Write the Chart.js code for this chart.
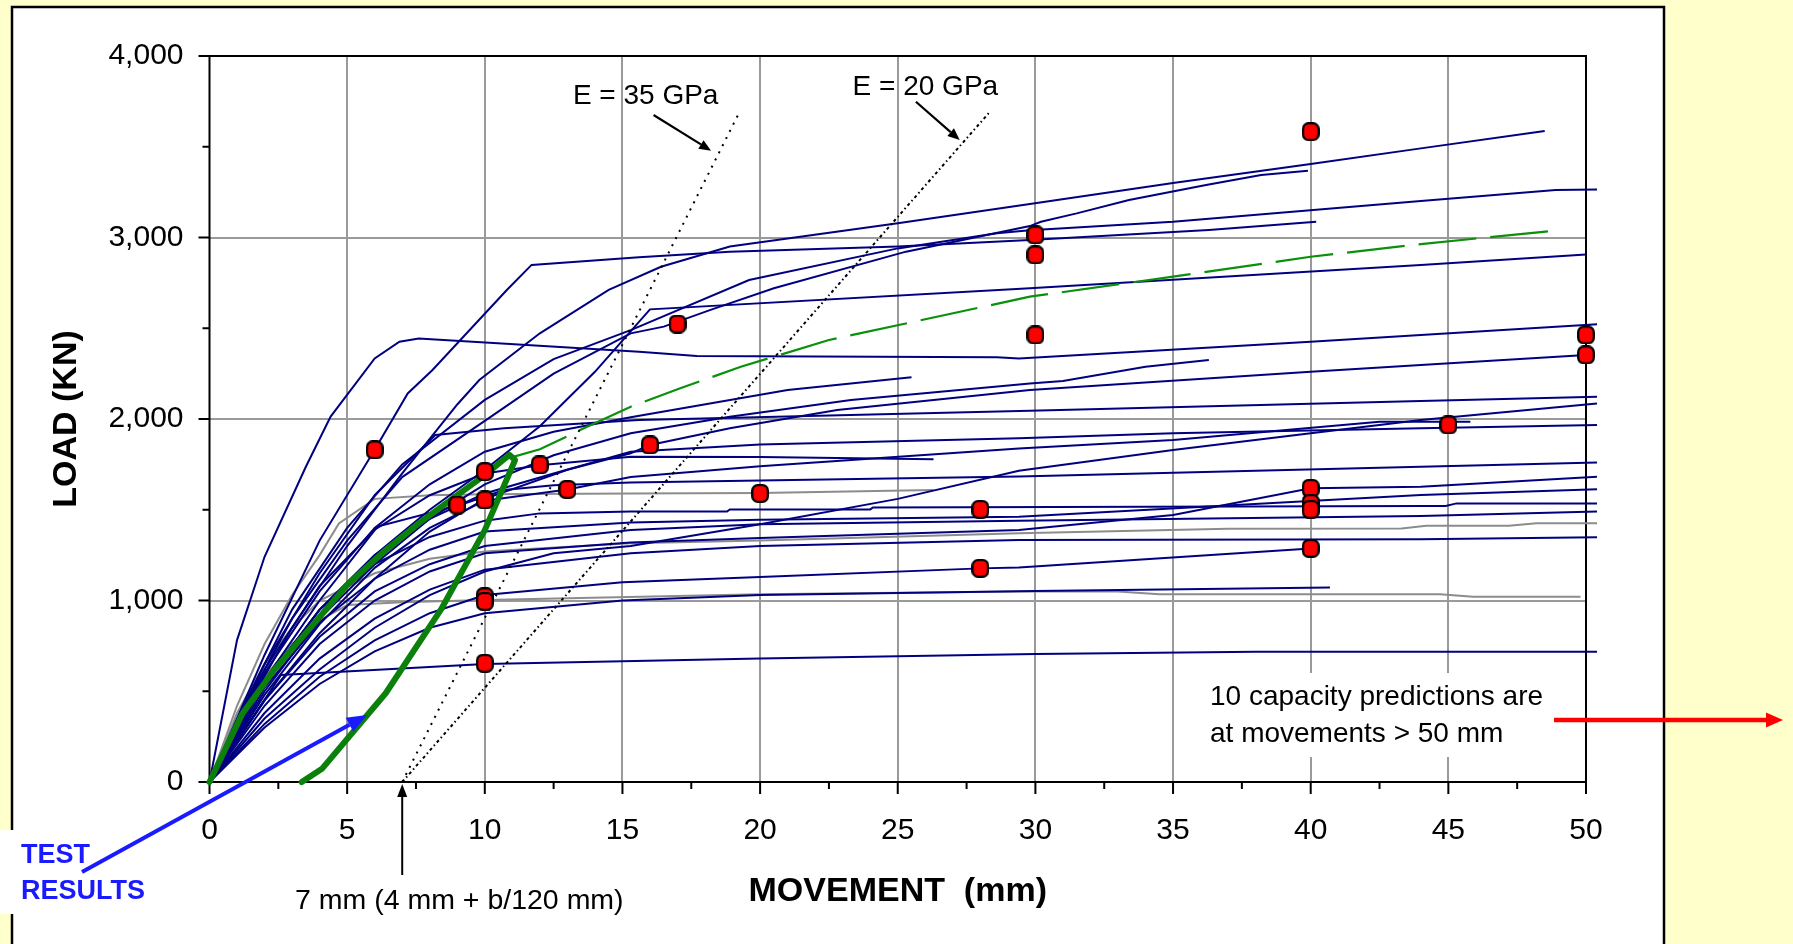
<!DOCTYPE html>
<html>
<head>
<meta charset="utf-8">
<title>Load - movement predictions</title>
<script src="https://cdn.jsdelivr.net/npm/chart.js@4/dist/chart.umd.min.js"></script>
<style>
  html, body { margin: 0; padding: 0; background: #FFFFCC; }
  canvas { display: block; }
</style>
</head>
<body>
<canvas id="chart" width="1793" height="944"></canvas>
<script>
// ---- Predicted load-movement curves, [movement mm, load kN] ----
const pred01 = [[0,0],[1.5,450],[3,850],[5,1300],[7,1700],[9,2080],[9.8,2215],[12,2472],[14.5,2711],[16.4,2839],[18.9,2950],[25,3078],[29.8,3185],[35,3300],[40,3405],[44,3491],[48.5,3587]];
const pred02 = [[0,0],[1.5,500],[3,950],[5,1400],[7,1750],[10,2105],[12.5,2330],[15.3,2490],[19.6,2766],[25,2940],[28.6,3023],[29.8,3040],[35,3087],[44,3201],[48.9,3262],[50.4,3265]];
const pred03 = [[0,0],[1.5,480],[3,900],[5,1330],[7,1680],[10,1990],[12.5,2250],[15.3,2472],[16.5,2509],[18.2,2601],[20.5,2720],[25.3,2922],[29.8,3063],[30.2,3087],[31.5,3133],[33.4,3207],[36.2,3289],[38.2,3344],[39.9,3368]];
const pred04 = [[0,0],[2,700],[4,1330],[6,1830],[7.2,2141],[8.1,2270],[10.8,2711],[11.7,2849],[15.6,2891],[18.9,2922],[25,2950],[29.8,2986],[36.3,3041],[40.2,3087]];
const pred05 = [[0,0],[1,782],[2,1241],[3.5,1737],[4.4,2013],[6,2334],[6.9,2426],[7.6,2444],[15.6,2371],[17.7,2347],[28.6,2340],[29.4,2334],[40,2426],[44,2463],[50.4,2522]];
const pred06 = [[0,0],[2,550],[4,950],[6,1250],[8,1500],[10,1720],[12,1960],[14,2260],[16,2604],[29.8,2720],[44,2849],[50,2907]];
const pred07 = [[0,0],[2,500],[4,900],[6,1200],[8,1450],[10,1640],[12.5,1800],[15.3,1921],[18.9,2013],[23.3,2105],[29.8,2196],[31,2209],[34,2288],[36.3,2325]];
const pred08 = [[0,0],[2,600],[4,1050],[6,1400],[8,1640],[10,1820],[12.5,1930],[15.3,2010],[21,2160],[25.5,2230]];
const pred09 = [[0,0],[2,450],[4,820],[6,1120],[8,1380],[10,1560],[13,1720],[15.3,1811],[16,1857],[18.9,1949],[22.8,2050],[29.8,2160],[40,2261],[44,2298],[50,2353]];
const pred10 = [[0,0],[2,650],[4,1150],[6,1580],[8.2,1912],[10.7,1949],[15.6,1994],[29.8,2046],[44,2099],[50.4,2123]];
const pred11 = [[0,0],[2,550],[4,950],[6,1250],[8,1450],[10,1590],[12.5,1700],[15.3,1820],[20,1860],[29.4,1894],[35,1921],[44,1949],[50.4,1967]];
const pred12 = [[0,0],[2,480],[4,870],[6,1180],[8,1400],[10,1550],[13,1612],[15.3,1680],[20,1740],[29.4,1838],[35,1884],[42.5,1985],[45.8,1985]];
const pred13 = [[0,0],[2,350],[4,620],[6,850],[8,1030],[10,1160],[12.5,1260],[15.3,1300],[20,1420],[25,1560],[29.4,1715],[35,1829],[40,1921],[44,1994],[50.4,2086]];
const pred14 = [[0,0],[2,560],[4,1000],[6.1,1407],[9.1,1526],[10.7,1609],[12.5,1635],[15.3,1650],[29.4,1683],[44,1737],[50.4,1761]];
const pred15 = [[0,0],[2,620],[4,1080],[6,1390],[8,1580],[10,1700],[12,1745],[15.3,1792],[20,1790],[26.3,1778]];
const pred16 = [[0,0],[2,420],[4,760],[6,1000],[8,1160],[10,1260],[15.3,1320],[20,1345],[29.4,1388],[35,1471],[40,1618],[44,1627],[50.4,1682]];
const pred17 = [[0,0],[2,520],[4,880],[6,1120],[8,1280],[10,1380],[15.3,1430],[20,1445],[29.4,1462],[44,1581],[50.4,1613]];
const pred18 = [[0,0],[2,550],[4,950],[6,1200],[8,1350],[10,1440],[12,1480],[15.3,1490],[18.8,1490],[18.9,1502],[24,1502],[24.1,1513],[44,1521],[44.9,1521],[45.3,1535],[50.4,1535]];
const pred19 = [[0,0],[2,450],[4,800],[6,1050],[8,1200],[10,1300],[15.3,1388],[20,1420],[29.4,1440],[44,1466],[50.4,1490]];
const pred20 = [[0,0],[2,380],[4,680],[6,900],[8,1060],[10,1170],[15.3,1260],[20,1300],[29.4,1333],[44,1337],[50.4,1348]];
const pred21 = [[0,0],[2,320],[4,580],[6,780],[8,930],[10,1030],[15,1100],[20,1130],[28,1177],[29.4,1182],[40,1287]];
const pred22 = [[0,0],[2,300],[4,540],[6,720],[8,850],[10,930],[15,1000],[20,1030],[30,1052],[40.7,1071]];
const pred23 = [[0,0],[2.6,590],[10,650],[20,680],[30,705],[38,718],[50.4,718]];
const navyCurves = [pred01,pred02,pred03,pred04,pred05,pred06,pred07,pred08,pred09,pred10,pred11,pred12,
                    pred13,pred14,pred15,pred16,pred17,pred18,pred19,pred20,pred21,pred22,pred23];

const grey01 = [[0,0],[1,380],[2,650],[3,850],[4,1000],[6,1150],[8,1230],[10,1270],[15.3,1315],[20,1330],[29.4,1370],[37,1395],[43.3,1397],[44.2,1412],[47.2,1412],[48.2,1425],[50.4,1425]];
const grey02 = [[0,0],[1,330],[2,580],[3,760],[4,890],[5,975],[7,990],[10,1003],[20,1035],[29.4,1049],[33,1049],[34.5,1034],[44.7,1034],[45.9,1021],[49.8,1021]];
const grey03 = [[0,0],[1,420],[2,760],[3,1030],[4,1250],[4.7,1425],[6,1560],[8,1580],[10,1585],[15.3,1590],[20,1592],[26.3,1609]];
const greyCurves = [grey01, grey02, grey03];

// Green dashed curve
const dashedGreen = [[11,1790],[12,1833],[13.6,1949],[15.3,2068],[17.1,2169],[19.3,2288],[22.5,2435],[29.8,2674],[35,2784],[40,2894],[44,2964],[49.1,3041]];

// Test results (loading branch, then the shifted branch back to zero load)
const testCurve = [[0,0],[1.2,378],[2.3,608],[3.8,874],[5,1085],[6.4,1278],[7.6,1425],[9,1581],[10,1691],[10.7,1778],[10.9,1802],[11.1,1774],[10,1388],[8.4,948],[6.4,489],[4.1,75],[3.35,0]];

// Elastic compression lines from the 7 mm offset
const line35GPa = [[7,0],[19.28,3700]];
const line20GPa = [[7,0],[28.35,3693]];

// Capacity predictions
const capMovement = [6,9,10,10,10,10,10,12,13,16,17,20,28,28,30,30,30,40,40,40,40,40,45,50,50];
const capLoad     = [1830,1526,1710,1554,1021,995,654,1747,1612,1857,2523,1590,1502,1177,3014,2904,2463,3583,1618,1535,1502,1287,1967,2463,2353];

// Axis ranges
const xRange = [0, 50];
const yRange = [0, 4000];
const xMajor = 5, xMinor = 2.5;
const yMajor = 1000, yMinor = 500;

// ---------------------------------------------------------------
const FONT = '"Liberation Sans", Arial, Helvetica, sans-serif';
const NAVY = '#000080';
const GREY = '#8c8c8c';
const GRID = '#9a9a9a';
const BLUE = '#1a1aff';

const toPts = arr => arr.map(([x, y]) => ({ x, y }));

function curve(arr, color, width, extra) {
  return Object.assign({
    data: toPts(arr), showLine: true, borderColor: color, borderWidth: width,
    pointRadius: 0, pointHoverRadius: 0, fill: false, tension: 0, clip: false
  }, extra || {});
}

// Red rounded-square marker
function makeMarker() {
  const c = document.createElement('canvas');
  c.width = 18; c.height = 19;
  const g = c.getContext('2d');
  const x = 1.2, y = 1.2, w = 15.6, h = 16.6, r = 5.5;
  g.beginPath();
  g.moveTo(x + r, y);
  g.arcTo(x + w, y, x + w, y + h, r);
  g.arcTo(x + w, y + h, x, y + h, r);
  g.arcTo(x, y + h, x, y, r);
  g.arcTo(x, y, x + w, y, r);
  g.closePath();
  g.fillStyle = '#ff0000';
  g.fill();
  g.lineWidth = 2.3;
  g.strokeStyle = '#000';
  g.stroke();
  return c;
}

const datasets = [];
// first dataset is drawn on top
datasets.push({
  data: capMovement.map((x, i) => ({ x, y: capLoad[i] })),
  showLine: false, pointStyle: makeMarker(), pointRadius: 9, clip: false
});
datasets.push(curve(testCurve, '#0b800b', 6, { borderJoinStyle: 'round', borderCapStyle: 'round' }));
datasets.push(curve(line35GPa, '#000', 2, { borderDash: [2, 6] }));
datasets.push(curve(line20GPa, '#000', 2, { borderDash: [3, 3, 1.5, 3] }));
datasets.push(curve(dashedGreen, '#0a900a', 2.2, { borderDash: [58, 14] }));
navyCurves.forEach(c => datasets.push(curve(c, NAVY, 2)));
greyCurves.forEach(c => datasets.push(curve(c, GREY, 2)));

function arrow(ctx, x1, y1, x2, y2, color, width, headLen, headW) {
  const a = Math.atan2(y2 - y1, x2 - x1);
  const bx = x2 - headLen * Math.cos(a), by = y2 - headLen * Math.sin(a);
  ctx.save();
  ctx.strokeStyle = color; ctx.fillStyle = color; ctx.lineWidth = width;
  ctx.beginPath(); ctx.moveTo(x1, y1); ctx.lineTo(bx, by); ctx.stroke();
  ctx.beginPath();
  ctx.moveTo(x2, y2);
  ctx.lineTo(bx + headW / 2 * Math.sin(a), by - headW / 2 * Math.cos(a));
  ctx.lineTo(bx - headW / 2 * Math.sin(a), by + headW / 2 * Math.cos(a));
  ctx.closePath(); ctx.fill();
  ctx.restore();
}

// White slide panel behind the chart
const panelPlugin = {
  id: 'panel',
  beforeDraw(chart) {
    const ctx = chart.ctx;
    ctx.save();
    ctx.fillStyle = '#ffffff';
    ctx.fillRect(12, 7, 1652, 960);
    ctx.strokeStyle = '#000';
    ctx.lineWidth = 2.5;
    ctx.strokeRect(12, 7, 1652, 960);
    ctx.restore();
  }
};

// Plot frame and tick marks
const framePlugin = {
  id: 'frame',
  beforeDatasetsDraw(chart) {
    const { ctx, chartArea: ca, scales: { x, y } } = chart;
    ctx.save();
    ctx.strokeStyle = '#000';
    ctx.lineWidth = 2;
    ctx.strokeRect(ca.left, ca.top, ca.right - ca.left, ca.bottom - ca.top);
    ctx.beginPath();
    y.ticks.forEach(t => {
      const py = y.getPixelForValue(t.value);
      const len = t.value % yMajor === 0 ? 11 : 7;
      ctx.moveTo(ca.left - len, py); ctx.lineTo(ca.left, py);
    });
    x.ticks.forEach(t => {
      const px = x.getPixelForValue(t.value);
      const len = t.value % xMajor === 0 ? 12 : 7;
      ctx.moveTo(px, ca.bottom); ctx.lineTo(px, ca.bottom + len);
    });
    ctx.stroke();
    ctx.restore();
  }
};

// Notes, arrows and labels
const notesPlugin = {
  id: 'notes',
  afterDraw(chart) {
    const { ctx, scales: { x, y } } = chart;
    const px = v => x.getPixelForValue(v);
    const py = v => y.getPixelForValue(v);
    ctx.save();
    ctx.textBaseline = 'middle';
    ctx.textAlign = 'left';

    // modulus labels
    ctx.fillStyle = '#000';
    ctx.font = '28px ' + FONT;
    ctx.fillText('E = 35 GPa', px(13.2), py(3776));
    ctx.fillText('E = 20 GPa', px(23.36), py(3827));
    arrow(ctx, px(16.13), py(3675), px(18.22), py(3478), '#000', 2.2, 12, 10);
    arrow(ctx, px(25.66), py(3748), px(27.25), py(3537), '#000', 2.2, 12, 10);

    // 7 mm offset
    arrow(ctx, px(7), 875, px(7), py(0) + 2, '#000', 2, 13, 10);
    ctx.font = '28.5px ' + FONT;
    ctx.fillText('7 mm (4 mm + b/120 mm)', 295, 901);

    // capacity note
    ctx.fillStyle = '#ffffff';
    ctx.fillRect(1198, 673, 372, 84);
    ctx.fillStyle = '#000';
    ctx.font = '28px ' + FONT;
    ctx.fillText('10 capacity predictions are', 1210, 697);
    ctx.fillText('at movements > 50 mm', 1210, 734);
    arrow(ctx, 1554, 720, 1783, 720, '#ff0000', 4.5, 17, 15);

    // test results label
    ctx.fillStyle = '#ffffff';
    ctx.fillRect(0, 830, 150, 84);
    ctx.fillStyle = BLUE;
    ctx.font = 'bold 27px ' + FONT;
    ctx.fillText('TEST', 21, 856);
    ctx.fillText('RESULTS', 21, 892);
    arrow(ctx, 82, 872, 367, 715, BLUE, 4, 20, 16);
    ctx.restore();
  }
};

new Chart(document.getElementById('chart'), {
  type: 'scatter',
  data: { datasets },
  options: {
    responsive: false,
    devicePixelRatio: 1,
    animation: false,
    events: [],
    layout: { padding: { left: 0, top: 56, right: 207, bottom: 0 } },
    plugins: { legend: { display: false }, tooltip: { enabled: false }, title: { display: false } },
    scales: {
      x: {
        type: 'linear', min: xRange[0], max: xRange[1],
        afterFit: s => { s.height = 162; },
        border: { display: false },
        grid: {
          drawTicks: false, lineWidth: 2,
          color: c => (c.tick && c.tick.value % xMajor === 0 && c.tick.value > xRange[0] && c.tick.value < xRange[1]) ? GRID : 'rgba(0,0,0,0)'
        },
        ticks: {
          stepSize: xMinor, autoSkip: false, maxRotation: 0, minRotation: 0, padding: 31,
          color: '#000', font: { family: FONT, size: 30 },
          callback: v => (v % xMajor === 0 ? String(v) : '')
        },
        title: {
          display: true, text: 'MOVEMENT  (mm)', color: '#000',
          font: { family: FONT, size: 34, weight: 'bold' }, padding: { top: 0, bottom: 32 }
        }
      },
      y: {
        type: 'linear', min: yRange[0], max: yRange[1],
        afterFit: s => { s.width = 209.5; },
        border: { display: false },
        grid: {
          drawTicks: false, lineWidth: 2,
          color: c => (c.tick && c.tick.value % yMajor === 0 && c.tick.value > yRange[0] && c.tick.value < yRange[1]) ? GRID : 'rgba(0,0,0,0)'
        },
        ticks: {
          stepSize: yMinor, padding: 26, color: '#000', font: { family: FONT, size: 30 },
          callback: v => (v % yMajor === 0 ? v.toLocaleString('en-US') : '')
        },
        title: {
          display: true, text: 'LOAD (KN)', color: '#000',
          font: { family: FONT, size: 34, weight: 'bold' }, padding: { top: 46, bottom: 0 }
        }
      }
    }
  },
  plugins: [panelPlugin, framePlugin, notesPlugin]
});
</script>
</body>
</html>
